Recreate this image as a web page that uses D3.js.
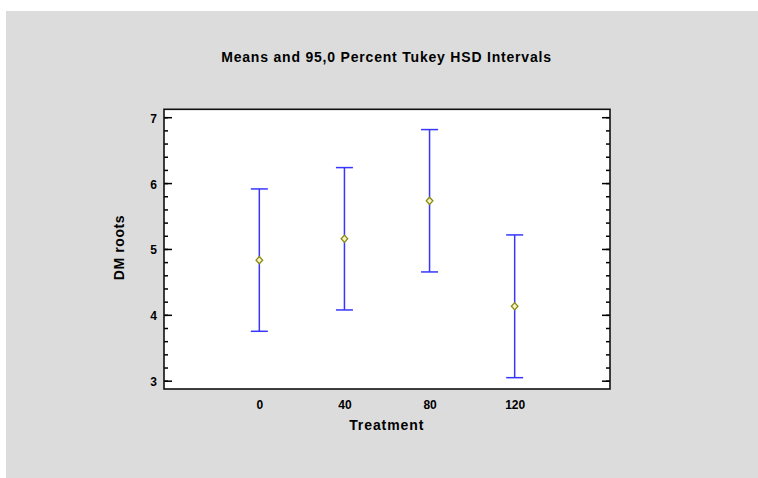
<!DOCTYPE html>
<html>
<head>
<meta charset="utf-8">
<script src="https://cdn.jsdelivr.net/npm/d3@7"></script>
<style>
    body { margin: 0; background: #fff; }
    text { font-family: Arial, "Liberation Sans", sans-serif; font-weight: bold; fill: #000; }
</style>
</head>
<body>
<svg id="chart" width="758" height="478"></svg>
<script>
// data
var treatments = ["0", "40", "80", "120"];
var means = [4.83, 5.155, 5.73, 4.13];
var lower = [3.75, 4.074, 4.651, 3.046];
var upper = [5.911, 6.235, 6.812, 5.213];
var yTicks = [3, 4, 5, 6, 7];
var yMinorTicks = d3.range(3, 7.01, 0.2);

var titleText = "Means and 95,0 Percent Tukey HSD Intervals";
var xTitle = "Treatment";
var yTitle = "DM roots";

var svg = d3.select("#chart");

var plotLeft = 164, plotRight = 610, plotTop = 109.3, plotBottom = 389;
var barColor = "#3636ff";

var x = d3.scalePoint()
    .domain(treatments)
    .range([plotLeft, plotRight])
    .padding(1.12);

var y = d3.scaleLinear()
    .domain([2.874, 7.12])
    .range([plotBottom, plotTop]);

var rows = treatments.map(function(t, i) {
    return {t: t, mean: means[i], lo: lower[i], hi: upper[i]};
});

// gray panel
svg.append("rect")
    .attr("x", 6)
    .attr("y", 11)
    .attr("width", 752)
    .attr("height", 467)
    .attr("fill", "#dcdcdc");

// plot area
svg.append("rect")
    .attr("x", plotLeft)
    .attr("y", plotTop)
    .attr("width", plotRight - plotLeft)
    .attr("height", plotBottom - plotTop)
    .attr("fill", "#fff");

// y axes, ticks pointing inwards on both sides
var leftAxis = svg.append("g")
    .attr("transform", "translate(" + plotLeft + ",0)")
    .call(d3.axisLeft(y).tickValues(yTicks).tickSize(-8).tickPadding(7).tickFormat(d3.format("d")));
leftAxis.select(".domain").remove();
leftAxis.selectAll("line").attr("stroke", "#000").attr("stroke-width", 1.5);
leftAxis.selectAll("text")
    .style("font-size", "12px")
    .attr("dy", "0.42em");

var leftMinor = svg.append("g")
    .attr("transform", "translate(" + plotLeft + ",0)")
    .call(d3.axisLeft(y).tickValues(yMinorTicks).tickSize(-4).tickFormat(""));
leftMinor.select(".domain").remove();
leftMinor.selectAll("line").attr("stroke", "#000").attr("stroke-width", 1.5);

var rightAxis = svg.append("g")
    .attr("transform", "translate(" + plotRight + ",0)")
    .call(d3.axisRight(y).tickValues(yTicks).tickSize(-8).tickFormat(""));
rightAxis.select(".domain").remove();
rightAxis.selectAll("line").attr("stroke", "#000").attr("stroke-width", 1.5);

var rightMinor = svg.append("g")
    .attr("transform", "translate(" + plotRight + ",0)")
    .call(d3.axisRight(y).tickValues(yMinorTicks).tickSize(-4).tickFormat(""));
rightMinor.select(".domain").remove();
rightMinor.selectAll("line").attr("stroke", "#000").attr("stroke-width", 1.5);

// x axis: labels only
var bottomAxis = svg.append("g")
    .attr("transform", "translate(0," + plotBottom + ")")
    .call(d3.axisBottom(x).tickSize(0).tickPadding(11));
bottomAxis.select(".domain").remove();
bottomAxis.selectAll("text").style("font-size", "12px");

// frame
svg.append("rect")
    .attr("x", plotLeft)
    .attr("y", plotTop)
    .attr("width", plotRight - plotLeft)
    .attr("height", plotBottom - plotTop)
    .attr("fill", "none")
    .attr("stroke", "#111")
    .attr("stroke-width", 1.6);

// intervals
var bars = svg.append("g").selectAll("g")
    .data(rows)
    .enter()
    .append("g");

bars.append("line")
    .attr("x1", function(d) { return x(d.t); })
    .attr("x2", function(d) { return x(d.t); })
    .attr("y1", function(d) { return y(d.lo); })
    .attr("y2", function(d) { return y(d.hi); })
    .attr("stroke", barColor)
    .attr("stroke-width", 1.5);

bars.append("line")
    .attr("x1", function(d) { return x(d.t) - 8.5; })
    .attr("x2", function(d) { return x(d.t) + 8.5; })
    .attr("y1", function(d) { return y(d.hi); })
    .attr("y2", function(d) { return y(d.hi); })
    .attr("stroke", barColor)
    .attr("stroke-width", 1.5);

bars.append("line")
    .attr("x1", function(d) { return x(d.t) - 8.5; })
    .attr("x2", function(d) { return x(d.t) + 8.5; })
    .attr("y1", function(d) { return y(d.lo); })
    .attr("y2", function(d) { return y(d.lo); })
    .attr("stroke", barColor)
    .attr("stroke-width", 1.5);

// mean markers (small diamonds)
bars.append("path")
    .attr("d", function(d) {
        var cx = x(d.t), cy = y(d.mean);
        return "M" + cx + "," + (cy - 3.6) + "L" + (cx + 3.3) + "," + cy +
            "L" + cx + "," + (cy + 3.6) + "L" + (cx - 3.3) + "," + cy + "Z";
    })
    .attr("fill", "#f4f4c8")
    .attr("stroke", "#8a8a10")
    .attr("stroke-width", 1.3);

// titles
svg.append("text")
    .attr("x", 386.5)
    .attr("y", 62)
    .attr("text-anchor", "middle")
    .style("font-size", "14px")
    .style("letter-spacing", "0.8px")
    .text(titleText);

svg.append("text")
    .attr("x", 386.7)
    .attr("y", 429.5)
    .attr("text-anchor", "middle")
    .style("font-size", "14px")
    .style("letter-spacing", "0.9px")
    .text(xTitle);

svg.append("text")
    .attr("transform", "translate(124,247.5) rotate(-90)")
    .attr("text-anchor", "middle")
    .style("font-size", "14px")
    .style("letter-spacing", "0.6px")
    .text(yTitle);
</script>
</body>
</html>
